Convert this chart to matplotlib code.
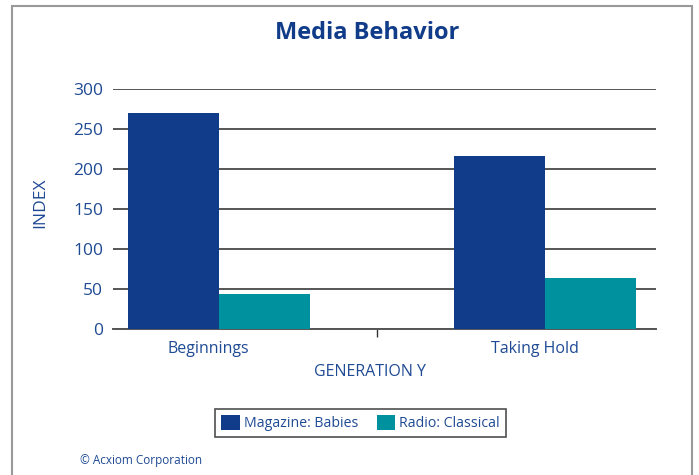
import numpy as np
import matplotlib
matplotlib.use("Agg")
import matplotlib.pyplot as plt
from matplotlib.patches import Rectangle

# Données du graphique
categories = ["Beginnings", "Taking Hold"]
magazine_babies = [270, 216]
radio_classical = [43, 63]
series_labels = ["Magazine: Babies", "Radio: Classical"]
y_ticks = [0, 50, 100, 150, 200, 250, 300]

navy = "#103c8a"
teal = "#00919e"
text_col = "#1f4a94"

plt.rcParams['font.family'] = ['Open Sans', 'DejaVu Sans']

fig = plt.figure(figsize=(6.99, 4.75), dpi=100)
ax = fig.add_axes([0.1617, 0.3084, 0.9385 - 0.1617, 0.8126 - 0.3084])

x = np.arange(len(categories))
w = 0.279
ax.bar(x - w / 2, magazine_babies, w, color=navy, label=series_labels[0], zorder=3)
ax.bar(x + w / 2, radio_classical, w, color=teal, label=series_labels[1], zorder=3)

ax.set_xlim(-0.325, 1.34)
ax.set_ylim(0, 300)
ax.set_yticks(y_ticks)
ax.yaxis.grid(True, color="#555555", lw=1.4, zorder=1)
ax.tick_params(axis='y', length=0, pad=7, labelsize=12.5, labelcolor=text_col)

# étiquettes des catégories (légèrement à gauche), petit repère entre les groupes
ax.set_xticks(x - 0.032)
ax.set_xticklabels(categories)
ax.set_xticks([0.485], minor=True)
ax.tick_params(axis='x', which='major', length=0, pad=9, labelsize=11.5, labelcolor=text_col)
ax.tick_params(axis='x', which='minor', length=6, width=1, color="#333333")

for s in ["top", "right", "left"]:
    ax.spines[s].set_visible(False)
ax.spines["bottom"].set_color("#555555")
ax.spines["bottom"].set_linewidth(1.4)

ax.set_ylabel("INDEX", color=text_col, fontsize=12.5, va="center")
ax.yaxis.set_label_coords(-0.134, 0.525)
ax.set_xlabel("GENERATION Y", color=text_col, fontsize=11.5, va="center")
ax.xaxis.set_label_coords(0.473, -0.18)

fig.text(0.525, 0.93, "Media Behavior", ha="center", va="center",
         fontsize=17, fontweight="bold", color=navy)

leg = ax.legend(loc="upper center", bbox_to_anchor=(0.456, -0.305), ncol=2,
                frameon=True, fancybox=False, fontsize=10.2, handlelength=1.3,
                handleheight=1.2, columnspacing=1.3, handletextpad=0.3,
                borderpad=0.45, labelcolor=text_col)
leg.get_frame().set_edgecolor("#222222")
leg.get_frame().set_linewidth(1.2)

fig.text(0.1145, 0.03, "© Acxiom Corporation", ha="left", va="center",
         fontsize=8.5, color=text_col)

# cadre gris autour de la figure
fig.patches.append(Rectangle((12 / 699, -0.05), 680 / 699, 1.05 - 6 / 475,
                             transform=fig.transFigure, fill=False,
                             edgecolor="#999999", lw=1.5))

fig.savefig("out.png", dpi=100)
